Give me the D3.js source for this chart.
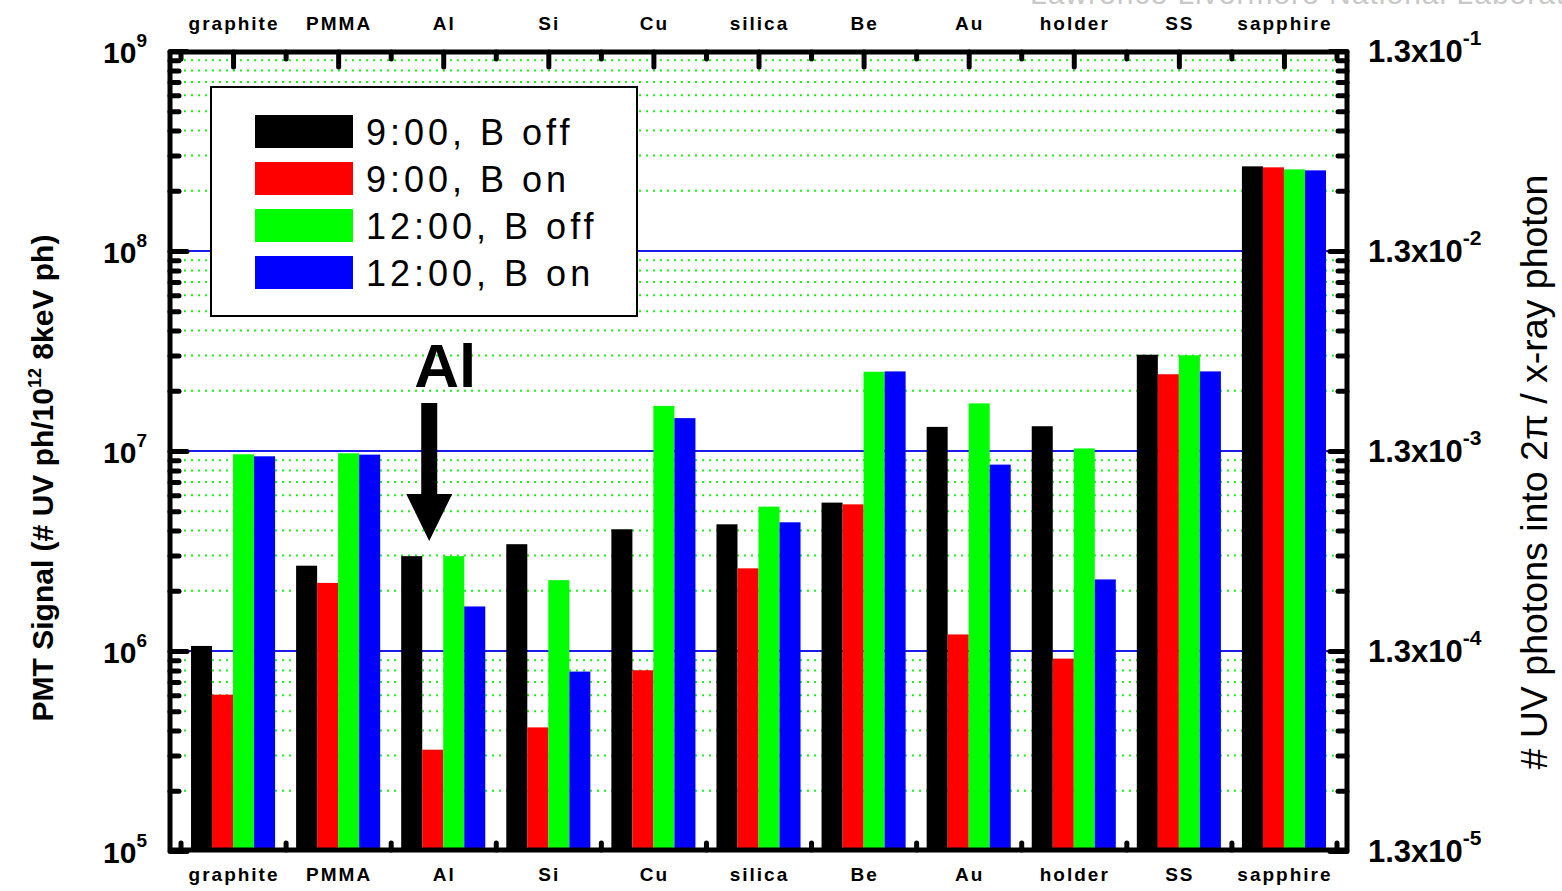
<!DOCTYPE html>
<html>
<head>
<meta charset="utf-8">
<script src="https://cdn.jsdelivr.net/npm/d3@7"></script>
<style>
  body { margin: 0; background: #fff; }
  svg { display: block; }
  text { font-family: Arial, "Liberation Sans", sans-serif; }
</style>
</head>
<body>
<svg id="chart" width="1562" height="891"></svg>
<script>
// Materials along the x axis
const categories = ["graphite", "PMMA", "Al", "Si", "Cu", "silica", "Be", "Au", "holder", "SS", "sapphire"];

// PMT signal (# UV ph / 10^12 8keV ph) for each run
const seriesNames = ["9:00, B off", "9:00, B on", "12:00, B off", "12:00, B on"];
const seriesColors = ["#000000", "#ff0000", "#00ff00", "#0000ff"];
const run900BOff  = [1.06e6, 2.67e6, 2.98e6, 3.42e6, 4.06e6, 4.30e6, 5.52e6, 1.32e7, 1.33e7, 3.03e7, 2.65e8];
const run900BOn   = [6.05e5, 2.19e6, 3.21e5, 4.15e5, 8.01e5, 2.59e6, 5.41e6, 1.21e6, 9.16e5, 2.42e7, 2.62e8];
const run1200BOff = [9.63e6, 9.74e6, 2.98e6, 2.26e6, 1.68e7, 5.27e6, 2.49e7, 1.73e7, 1.03e7, 3.01e7, 2.56e8];
const run1200BOn  = [9.41e6, 9.59e6, 1.67e6, 7.89e5, 1.46e7, 4.40e6, 2.50e7, 8.55e6, 2.28e6, 2.50e7, 2.53e8];
const seriesValues = [run900BOff, run900BOn, run1200BOff, run1200BOn];

// Axis ticks
const leftMajorTicks = [1e5, 1e6, 1e7, 1e8, 1e9];
const leftTickExponents = ["5", "6", "7", "8", "9"];
const rightMajorTicks = [1.3e-5, 1.3e-4, 1.3e-3, 1.3e-2, 1.3e-1];
const rightTickExponents = ["-5", "-4", "-3", "-2", "-1"];
const minorMultipliers = [2, 3, 4, 5, 6, 7, 8, 9];

const svg = d3.select("#chart");

const plot = { left: 170, right: 1347, top: 51, bottom: 851 };

const x = d3.scaleLinear().domain([-0.6, 10.6]).range([plot.left, plot.right]);
const y = d3.scaleLog().domain([1e5, 1e9]).range([plot.bottom, plot.top]);
const yRight = d3.scaleLog().domain([1.3e-5, 1.3e-1]).range([plot.bottom, plot.top]);

const leftMinor = [];
leftMajorTicks.slice(0, -1).forEach(d => minorMultipliers.forEach(m => leftMinor.push(d * m)));
const rightMinor = [];
rightMajorTicks.slice(0, -1).forEach(d => minorMultipliers.forEach(m => rightMinor.push(d * m)));

// faint page header running off the top edge
svg.append("text")
  .attr("x", 1030).attr("y", 4)
  .attr("font-size", 30)
  .attr("fill", "#c8c8c8")
  .style("letter-spacing", "1px")
  .text("Lawrence Livermore National Laboratory");

// grid: dotted minor lines, solid decade lines
const grid = svg.append("g");
grid.selectAll("line.minor")
  .data(leftMinor)
  .join("line")
  .attr("class", "minor")
  .attr("x1", plot.left).attr("x2", plot.right)
  .attr("y1", d => y(d)).attr("y2", d => y(d))
  .attr("stroke", "#22ee22")
  .attr("stroke-width", 2)
  .attr("stroke-dasharray", "2,5");
grid.selectAll("line.decade")
  .data([1e6, 1e7, 1e8])
  .join("line")
  .attr("class", "decade")
  .attr("x1", plot.left).attr("x2", plot.right)
  .attr("y1", d => y(d)).attr("y2", d => y(d))
  .attr("stroke", "#1a1aee")
  .attr("stroke-width", 2);

// bars
const barW = x(0.2) - x(0);
const bars = svg.append("g");
seriesValues.forEach((vals, k) => {
  bars.selectAll(null)
    .data(vals)
    .join("rect")
    .attr("x", (d, i) => x(i + (k - 2) * 0.2))
    .attr("width", barW)
    .attr("y", d => y(d))
    .attr("height", d => y(1e5) - y(d))
    .attr("fill", seriesColors[k]);
});

// axes with inward ticks
function styleAxis(g) {
  g.select(".domain").remove();
  g.selectAll(".tick line")
    .attr("stroke", "#000")
    .attr("stroke-width", 5)
    .attr("stroke-linecap", "round");
  g.selectAll(".tick text").remove();
}

svg.append("g").attr("transform", `translate(${plot.left},0)`)
  .call(d3.axisRight(y).tickValues(leftMajorTicks).tickSize(17).tickFormat(""))
  .call(styleAxis);
svg.append("g").attr("transform", `translate(${plot.left},0)`)
  .call(d3.axisRight(y).tickValues(leftMinor).tickSize(9).tickFormat(""))
  .call(styleAxis);
svg.append("g").attr("transform", `translate(${plot.right},0)`)
  .call(d3.axisLeft(yRight).tickValues(rightMajorTicks).tickSize(17).tickFormat(""))
  .call(styleAxis);
svg.append("g").attr("transform", `translate(${plot.right},0)`)
  .call(d3.axisLeft(yRight).tickValues(rightMinor).tickSize(9).tickFormat(""))
  .call(styleAxis);

const centers = d3.range(categories.length);
const bounds = d3.range(categories.length + 1).map(i => i - 0.5);
svg.append("g").attr("transform", `translate(0,${plot.top + 1})`)
  .call(d3.axisBottom(x).tickValues(centers).tickSize(15).tickFormat(""))
  .call(styleAxis);
svg.append("g").attr("transform", `translate(0,${plot.top + 1})`)
  .call(d3.axisBottom(x).tickValues(bounds).tickSize(7).tickFormat(""))
  .call(styleAxis);
svg.append("g").attr("transform", `translate(0,${plot.bottom - 1})`)
  .call(d3.axisTop(x).tickValues(bounds).tickSize(7).tickFormat(""))
  .call(styleAxis);

// frame
svg.append("rect")
  .attr("x", plot.left).attr("y", plot.top + 1)
  .attr("width", plot.right - plot.left)
  .attr("height", plot.bottom - plot.top - 2)
  .attr("fill", "none")
  .attr("stroke", "#000")
  .attr("stroke-width", 5)
  .attr("stroke-linejoin", "round");

// category labels, top and bottom
[30, 881].forEach(base => {
  svg.append("g").selectAll("text")
    .data(categories)
    .join("text")
    .attr("x", (d, i) => x(i) + 1)
    .attr("y", base)
    .attr("text-anchor", "middle")
    .attr("font-size", 19)
    .attr("font-weight", "bold")
    .style("letter-spacing", "2px")
    .text(d => d);
});

// left tick labels 10^n
const leftLabels = svg.append("g").selectAll("text")
  .data(leftMajorTicks)
  .join("text")
  .attr("x", 147)
  .attr("y", d => y(d) + 12)
  .attr("text-anchor", "end")
  .attr("font-size", 30)
  .attr("font-weight", "bold");
leftLabels.append("tspan").text("10");
leftLabels.append("tspan")
  .attr("dy", -16)
  .attr("font-size", 19)
  .text((d, i) => leftTickExponents[i]);

// right tick labels 1.3x10^n
const rightLabels = svg.append("g").selectAll("text")
  .data(rightMajorTicks)
  .join("text")
  .attr("x", 1368)
  .attr("y", d => yRight(d) + 11)
  .attr("font-size", 31)
  .attr("font-weight", "bold");
rightLabels.append("tspan").text("1.3x10");
rightLabels.append("tspan")
  .attr("dy", -17)
  .attr("font-size", 21)
  .text((d, i) => rightTickExponents[i]);

// axis titles
const leftTitle = svg.append("text")
  .attr("transform", "translate(53,478) rotate(-90)")
  .attr("text-anchor", "middle")
  .attr("font-size", 30)
  .attr("font-weight", "bold");
leftTitle.append("tspan").text("PMT Signal (# UV ph/10");
leftTitle.append("tspan").attr("dy", -12).attr("font-size", 18).text("12");
leftTitle.append("tspan").attr("dy", 12).text(" 8keV ph)");

svg.append("text")
  .attr("transform", "translate(1547,472) rotate(-90)")
  .attr("text-anchor", "middle")
  .attr("font-size", 37.5)
  .text("# UV photons into 2\u03c0 / x-ray photon");

// legend
const legend = svg.append("g");
legend.append("rect")
  .attr("x", 211).attr("y", 87)
  .attr("width", 426).attr("height", 229)
  .attr("fill", "#fff")
  .attr("stroke", "#000")
  .attr("stroke-width", 2);
seriesNames.forEach((name, k) => {
  const top = 115 + k * 47;
  legend.append("rect")
    .attr("x", 255).attr("y", top)
    .attr("width", 98).attr("height", 33)
    .attr("fill", seriesColors[k]);
  legend.append("text")
    .attr("x", 366).attr("y", top + 30)
    .attr("font-size", 36)
    .style("letter-spacing", "4px")
    .text(name);
});

// annotation pointing at the Al group
const arrowX = x(2) - 14;
const arrowTop = 403, arrowBase = 494, arrowTip = 541;
svg.append("text")
  .attr("x", x(2) + 2).attr("y", 387)
  .attr("text-anchor", "middle")
  .attr("font-size", 62)
  .attr("font-weight", "bold")
  .text("Al");
svg.append("path")
  .attr("d", d3.line()([
    [arrowX - 8, arrowTop], [arrowX + 8, arrowTop], [arrowX + 8, arrowBase],
    [arrowX + 23, arrowBase], [arrowX, arrowTip], [arrowX - 23, arrowBase],
    [arrowX - 8, arrowBase]
  ]) + "Z")
  .attr("fill", "#000");
</script>
</body>
</html>
